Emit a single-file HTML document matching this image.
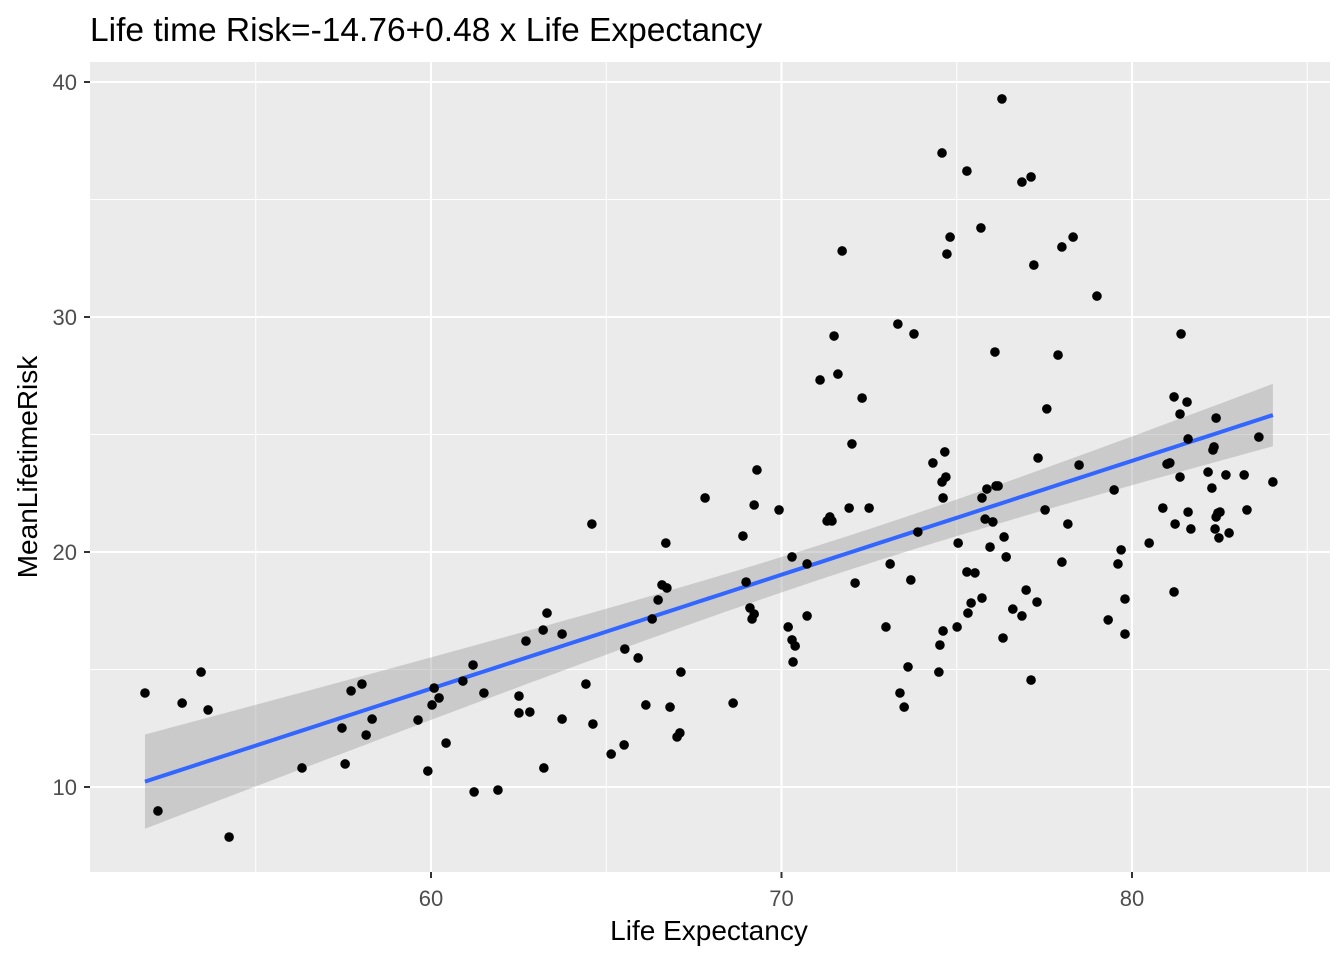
<!DOCTYPE html>
<html><head><meta charset="utf-8"><style>
body{margin:0;background:#fff;font-family:"Liberation Sans",Arial,sans-serif;}
svg text{font-family:"Liberation Sans",Arial,sans-serif;}
</style></head><body>
<svg id="chart" width="1344" height="960" xmlns="http://www.w3.org/2000/svg">
<text x="90" y="41" font-size="33.5" fill="#000">Life time Risk=-14.76+0.48 x Life Expectancy</text>
<rect x="90" y="62" width="1240" height="810" fill="#ebebeb"/>
<g id="grid"></g><g id="fit"></g><g id="pts"></g><g id="axes"></g>
<text x="709" y="940" font-size="28" text-anchor="middle" fill="#000">Life Expectancy</text>
<text transform="translate(37,467) rotate(-90)" font-size="28" text-anchor="middle" fill="#000">MeanLifetimeRisk</text>
</svg>
<script>
const lifeExpectancy=[51.84,52.21,52.90,53.44,53.64,54.24,56.32,57.46,57.55,57.72,58.03,58.15,58.32,59.63,59.91,60.03,60.09,60.23,60.43,60.91,61.20,61.23,61.51,61.91,62.51,62.51,62.71,62.82,63.20,63.22,63.31,63.74,63.74,64.42,64.59,64.62,65.14,65.51,65.53,65.91,66.13,66.31,66.48,66.59,66.70,66.73,66.82,67.02,67.10,67.13,67.82,68.62,68.90,68.99,69.10,69.16,69.22,69.22,69.30,69.93,70.19,70.30,70.30,70.33,70.39,70.73,70.73,71.10,71.30,71.38,71.44,71.50,71.61,71.73,71.93,72.01,72.10,72.30,72.50,72.98,73.10,73.32,73.38,73.50,73.61,73.69,73.78,73.89,74.32,74.49,74.52,74.58,74.58,74.61,74.61,74.66,74.69,74.72,74.81,75.01,75.04,75.29,75.29,75.32,75.41,75.52,75.69,75.72,75.72,75.81,75.86,75.95,76.03,76.09,76.12,76.18,76.29,76.32,76.35,76.41,76.60,76.86,76.86,76.98,77.12,77.12,77.20,77.29,77.32,77.52,77.57,77.89,78.0,78.0,78.17,78.32,78.49,79.0,79.32,79.49,79.60,79.69,79.80,79.80,80.49,80.88,81.0,81.08,81.20,81.20,81.23,81.37,81.37,81.40,81.57,81.60,81.60,81.68,82.17,82.28,82.31,82.34,82.37,82.40,82.40,82.45,82.48,82.51,82.68,82.77,83.20,83.28,83.62,84.02];
const meanRisk=[14.0,8.98,13.57,14.89,13.28,7.87,10.81,12.51,10.98,14.09,14.38,12.21,12.89,12.85,10.68,13.49,14.21,13.79,11.87,14.51,15.19,9.79,14.0,9.87,13.87,13.15,16.21,13.19,16.68,10.81,17.40,16.51,12.89,14.38,21.19,12.68,11.40,11.79,15.87,15.49,13.49,17.15,17.96,18.60,20.38,18.47,13.40,12.13,12.30,14.89,22.30,13.57,20.68,18.72,17.62,17.15,22.0,17.36,23.49,21.79,16.81,19.79,16.26,15.32,16.0,19.49,17.28,27.32,21.32,21.49,21.32,29.19,27.57,32.81,21.87,24.60,18.68,26.55,21.87,16.81,19.49,29.70,14.0,13.40,15.11,18.81,29.28,20.85,23.79,14.89,16.04,22.98,36.98,16.64,22.30,24.26,23.19,32.68,33.40,16.81,20.38,36.21,19.15,17.40,17.83,19.11,33.79,18.04,22.30,21.40,22.68,20.21,21.28,28.51,22.81,22.81,39.28,16.34,20.64,19.79,17.57,35.74,17.28,18.38,35.96,14.55,32.21,17.87,24.0,21.79,26.09,28.38,32.98,19.57,21.19,33.40,23.70,30.89,17.11,22.64,19.49,20.09,16.51,18.0,20.38,21.87,23.74,23.79,18.30,26.60,21.19,25.87,23.19,29.28,26.38,24.81,21.70,20.98,23.40,22.72,24.34,24.47,20.98,25.70,21.49,21.66,20.60,21.70,23.28,20.81,23.28,21.79,24.89,22.98];
const xTicks=[60,70,80];
const yTicks=[10,20,30,40];
const xMinor=[55,65,75,85];
const yMinor=[15,25,35];
const NS="http://www.w3.org/2000/svg";
const X=v=>431+(v-60)*35.05;
const Y=v=>552-(v-20)*23.5;
function mk(tag,attrs,parent){const e=document.createElementNS(NS,tag);for(const k in attrs)e.setAttribute(k,attrs[k]);document.getElementById(parent).appendChild(e);return e;}
xMinor.forEach(v=>{const l=mk('line',{x1:X(v),x2:X(v),y1:62,y2:872,stroke:'#fff','stroke-width':1},'grid');

});
yMinor.forEach(v=>{const l=mk('line',{x1:90,x2:1330,y1:Y(v),y2:Y(v),stroke:'#fff','stroke-width':1},'grid');

});
xTicks.forEach(v=>{const l=mk('line',{x1:X(v),x2:X(v),y1:62,y2:872,stroke:'#fff','stroke-width':2},'grid');


const t=mk('line',{x1:X(v),x2:X(v),y1:872,y2:878,stroke:'#333','stroke-width':2},'axes');


const tx=mk('text',{x:X(v),y:906,'font-size':22,fill:'#4d4d4d','text-anchor':'middle'},'axes');tx.textContent=v;

});
yTicks.forEach(v=>{const l=mk('line',{x1:90,x2:1330,y1:Y(v),y2:Y(v),stroke:'#fff','stroke-width':2},'grid');


const t=mk('line',{x1:84,x2:90,y1:Y(v),y2:Y(v),stroke:'#333','stroke-width':2},'axes');


const tx=mk('text',{x:77,y:Y(v)+8,'font-size':22,fill:'#4d4d4d','text-anchor':'end'},'axes');tx.textContent=v;

});
lifeExpectancy.forEach((v,i)=>{const c=mk('circle',{cx:X(v),cy:Y(meanRisk[i]),r:4.8,fill:'#000'},'pts');

});
const n=lifeExpectancy.length;
const mx=lifeExpectancy.reduce((a,b)=>a+b,0)/n, my=meanRisk.reduce((a,b)=>a+b,0)/n;
let sxx=0,sxy=0;lifeExpectancy.forEach((v,i)=>{sxx+=(v-mx)**2;sxy+=(v-mx)*(meanRisk[i]-my);});
const b=sxy/sxx,a=my-b*mx;
let sse=0;lifeExpectancy.forEach((v,i)=>{sse+=(meanRisk[i]-a-b*v)**2;});
const s=Math.sqrt(sse/(n-2)),tq=1.974;
const x0=Math.min(...lifeExpectancy),x1=Math.max(...lifeExpectancy);
const up=[],lo=[],ln=[];
for(let k=0;k<=80;k++){const x=x0+(x1-x0)*k/80;const f=a+b*x;const se=tq*s*Math.sqrt(1/n+(x-mx)**2/sxx);
up.push(X(x)+','+Y(f+se));lo.unshift(X(x)+','+Y(f-se));ln.push(X(x)+','+Y(f));}
const band=mk('polygon',{points:up.concat(lo).join(' '),fill:'#999','fill-opacity':0.4},'fit');


const line=mk('polyline',{points:ln.join(' '),fill:'none',stroke:'#3366ff','stroke-width':4},'fit');


</script>
</body></html>
